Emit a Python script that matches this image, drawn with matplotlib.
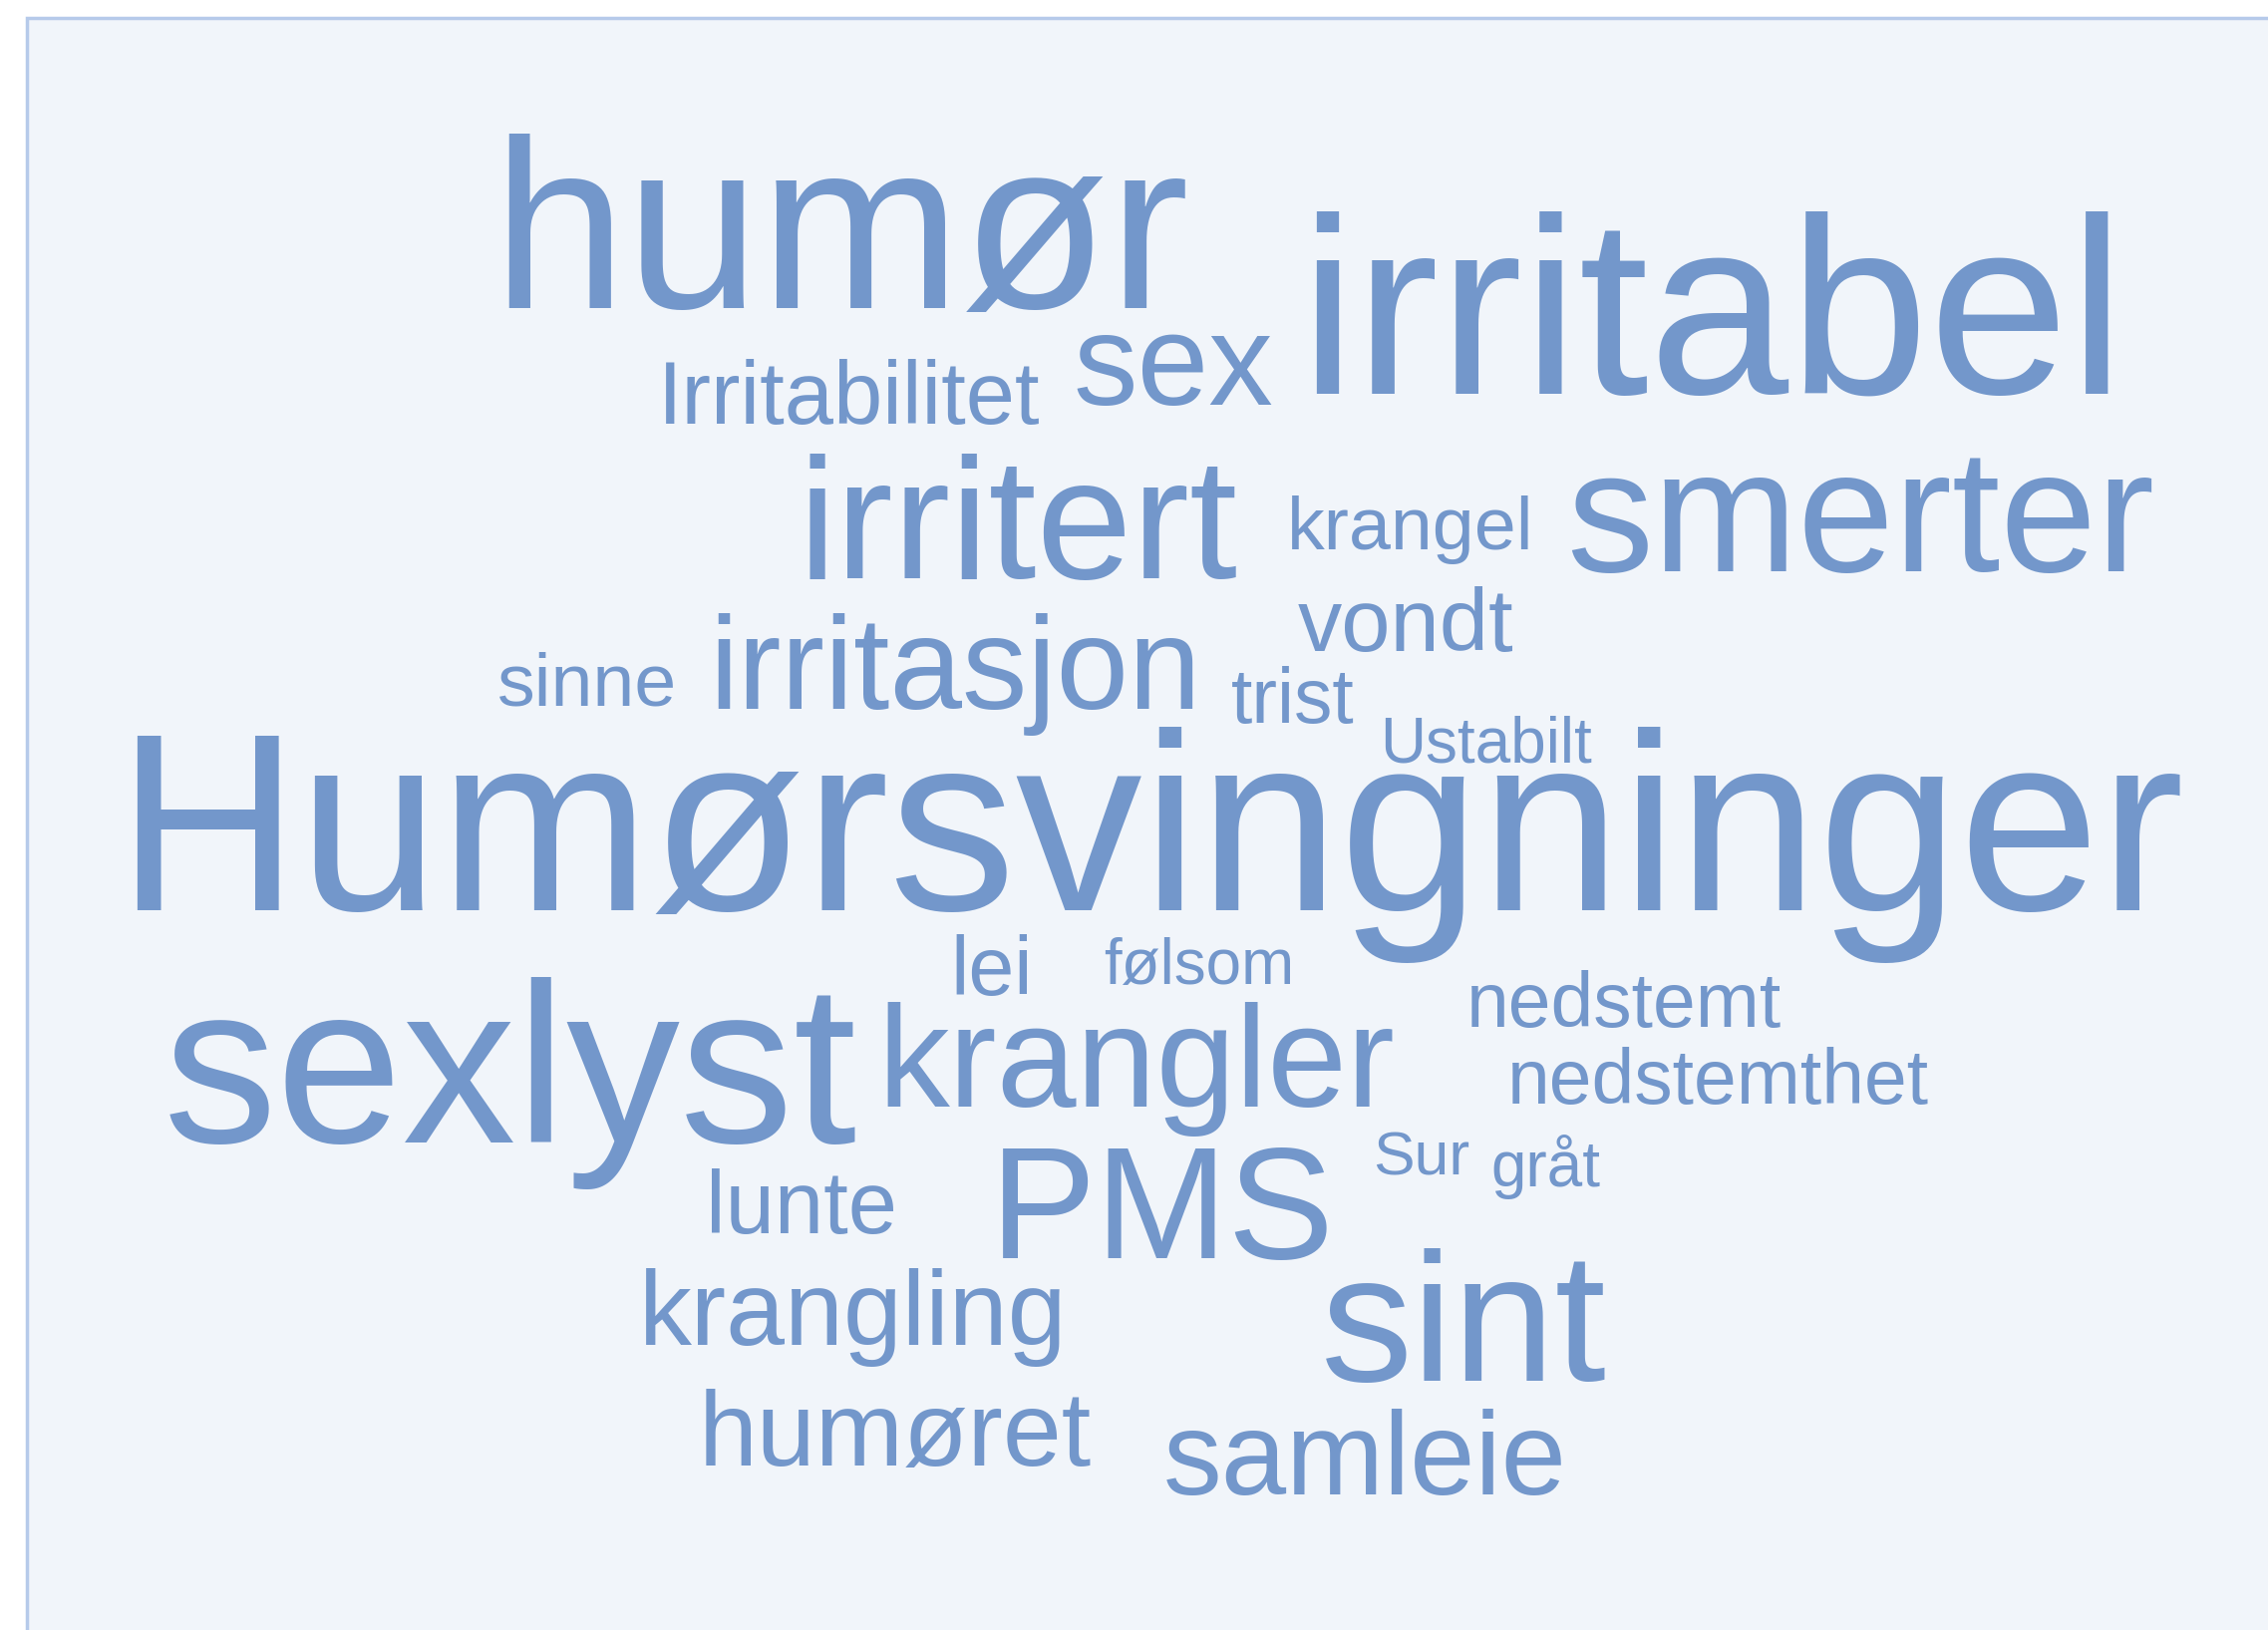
import matplotlib.pyplot as plt
from matplotlib.patches import Rectangle

# words of the cloud and their weights (font size in px of the 1568-wide view)
words = ["humør", "irritabel", "Irritabilitet", "sex", "irritert", "krangel",
         "smerter", "vondt", "sinne", "irritasjon", "trist", "Ustabilt",
         "Humørsvingninger", "lei", "følsom", "nedstemt", "sexlyst", "krangler",
         "nedstemthet", "Sur", "gråt", "lunte", "PMS", "krangling", "sint",
         "humøret", "samleie"]
weights = [167, 174, 61, 89, 119, 52,
           120, 61, 52, 90, 53, 44,
           175, 57, 44, 53, 157, 99,
           53, 43, 44, 61, 110, 73, 127,
           73, 81]

# layout: left edge and baseline of each word (same view coordinates)
pos_x = [340, 898, 455, 742, 552, 890,
         1083, 897, 344, 490, 851, 954,
         80, 657, 763, 1014, 113, 607,
         1042, 949, 1031, 488, 684, 442, 913,
         483, 804]
pos_y = [213, 272, 293, 280, 400, 380,
         395, 450, 488, 490, 500, 527,
         629, 688, 680, 710, 790, 765,
         763, 812, 820, 853, 870, 930, 955,
         1013, 1033]

W, H = 1568, 1127
scale = 2275 / W

fig = plt.figure(figsize=(22.75, 16.35), dpi=100)
ax = fig.add_axes([0, 0, 1, 1])
ax.set_xlim(0, W)
ax.set_ylim(H, 0)
ax.axis("off")

ax.add_patch(Rectangle((18.6, 12.4), W, H, facecolor="#F1F5FA",
                       edgecolor="#B6CAEA", linewidth=2.5))

for w, s, x, y in zip(words, weights, pos_x, pos_y):
    ax.text(x, y, w, fontsize=s * scale * 72 / 100, color="#7397CB",
            family="Liberation Sans", ha="left", va="baseline")

fig.savefig("out.png", dpi=100)
